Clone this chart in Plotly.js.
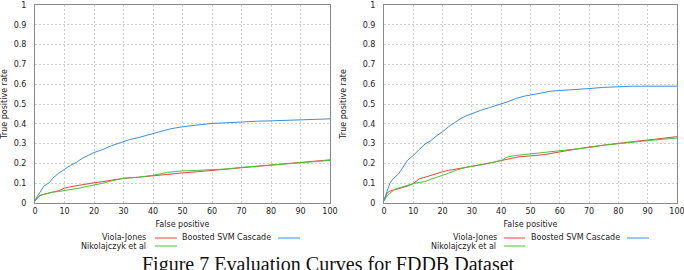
<!DOCTYPE html>
<html><head><meta charset="utf-8">
<script src="https://cdn.plot.ly/plotly-3.0.1.min.js"></script>
<style>html,body{margin:0;padding:0;background:#fff;}#chart{width:684px;height:270px;}</style>
</head><body><div id="chart"></div>
<script>
// ---- data ----
const seriesNames = ["Viola-Jones", "Nikolajczyk et al", "Boosted SVM Cascade"];
const xTicks = [0,10,20,30,40,50,60,70,80,90,100];
const yTicks = [0,0.1,0.2,0.3,0.4,0.5,0.6,0.7,0.8,0.9,1];
const yTickText = ["0","0.1","0.2","0.3","0.4","0.5","0.6","0.7","0.8","0.9","1"];

// left panel
const leftBlueX = [0,1,2,3,4,5,6,7,8,10,12,14,16,18,20,23,26,29,32,35,38,40,43,46,50,55,60,65,70,75,80,85,90,95,100];
const leftBlueY = [0.015,0.04,0.065,0.085,0.095,0.105,0.125,0.14,0.15,0.17,0.19,0.205,0.225,0.24,0.255,0.27,0.29,0.305,0.32,0.33,0.342,0.35,0.365,0.375,0.385,0.395,0.402,0.405,0.41,0.413,0.415,0.418,0.42,0.422,0.425];
const leftRedX = [0,1,2,4,6,8,10,12,15,18,20,23,26,30,35,40,45,50,55,60,65,70,75,80,85,90,95,100];
const leftRedY = [0.01,0.03,0.04,0.046,0.055,0.062,0.075,0.082,0.09,0.1,0.102,0.108,0.115,0.125,0.13,0.138,0.145,0.152,0.158,0.165,0.17,0.178,0.185,0.192,0.198,0.205,0.213,0.218];
const leftGreenX = [0,1,2,4,6,8,10,12,15,18,20,23,26,30,35,40,45,50,55,60,65,70,75,80,85,90,95,100];
const leftGreenY = [0.01,0.03,0.04,0.048,0.055,0.058,0.062,0.066,0.075,0.085,0.09,0.1,0.112,0.125,0.13,0.14,0.155,0.162,0.165,0.167,0.172,0.18,0.186,0.192,0.198,0.205,0.21,0.215];

// right panel
const rightBlueX = [0,1,2,3,4,5,6,7,8,9,10,12,14,16,18,20,22,24,26,28,30,33,36,39,42,45,48,51,54,57,60,65,70,75,80,85,90,95,100];
const rightBlueY = [0.015,0.06,0.1,0.12,0.135,0.148,0.17,0.195,0.215,0.228,0.24,0.27,0.298,0.315,0.34,0.36,0.385,0.405,0.425,0.44,0.452,0.468,0.482,0.496,0.51,0.528,0.54,0.548,0.555,0.565,0.568,0.572,0.578,0.584,0.588,0.59,0.59,0.59,0.59];
const rightRedX = [0,1,2,4,6,8,10,12,14,16,18,20,22,25,28,31,34,37,40,43,46,50,55,60,65,70,75,80,85,90,95,100];
const rightRedY = [0.01,0.05,0.06,0.068,0.076,0.085,0.098,0.122,0.13,0.14,0.15,0.158,0.165,0.172,0.182,0.188,0.195,0.205,0.215,0.225,0.233,0.238,0.245,0.258,0.272,0.283,0.292,0.302,0.31,0.318,0.327,0.335];
const rightGreenX = [0,1,2,4,6,8,10,12,14,16,18,20,22,25,28,31,34,37,40,42,45,50,55,60,65,70,75,80,85,90,95,100];
const rightGreenY = [0.01,0.035,0.05,0.072,0.08,0.09,0.098,0.104,0.108,0.12,0.132,0.14,0.15,0.168,0.18,0.188,0.195,0.205,0.215,0.232,0.24,0.248,0.255,0.265,0.272,0.28,0.292,0.3,0.306,0.315,0.322,0.328];

const caption = "Figure 7 Evaluation Curves for FDDB Dataset";
const xTitle = "False positive";
const yTitle = "True positive rate";

// ---- styling ----
const colors = ["#e2473f", "#4cbf3c", "#3c8fdb"];
const W = 684, H = 270, ML = 35, MR = 7, MT = 5, MB = 67;
const PW = W - ML - MR, PH = H - MT - MB;
const px = x => (x - ML) / PW;
const py = y => (H - MB - y) / PH;

function tr(x, y, c, xa, ya) {
  return {x: x, y: y, type: 'scatter', mode: 'lines', line: {color: c, width: 1},
          xaxis: xa, yaxis: ya, showlegend: false, hoverinfo: 'skip'};
}
const data = [
  tr(leftRedX, leftRedY, colors[0], 'x', 'y'),
  tr(leftGreenX, leftGreenY, colors[1], 'x', 'y'),
  tr(leftBlueX, leftBlueY, colors[2], 'x', 'y'),
  tr(rightRedX, rightRedY, colors[0], 'x2', 'y2'),
  tr(rightGreenX, rightGreenY, colors[1], 'x2', 'y2'),
  tr(rightBlueX, rightBlueY, colors[2], 'x2', 'y2'),
];
const tickFont = {family: 'DejaVu Sans, sans-serif', size: 8, color: '#222'};
function xax(domain, anchor) {
  return {domain: domain, anchor: anchor, range: [0, 100], tickvals: xTicks, ticktext: xTicks.map(String),
    showgrid: true, gridcolor: '#cfcfcf', griddash: '2px,2px', gridwidth: 1,
    showline: true, mirror: true, linecolor: '#8a8a8a', linewidth: 1, zeroline: false,
    ticks: '', tickfont: tickFont, automargin: false, ticklabeloverflow: 'allow',
    title: {text: xTitle, font: tickFont, standoff: 6}};
}
function yax(anchor, standoff) {
  return {domain: [0, 1], anchor: anchor, range: [0, 1], tickvals: yTicks, ticktext: yTickText,
    showgrid: true, gridcolor: '#cfcfcf', griddash: '2px,2px', gridwidth: 1,
    showline: true, mirror: true, linecolor: '#8a8a8a', linewidth: 1, zeroline: false,
    ticks: '', tickfont: tickFont, automargin: false, ticklabelstandoff: 6, ticklabeloverflow: 'allow',
    title: {text: yTitle, font: tickFont, standoff: standoff}};
}
const L0 = px(35), L1 = px(330), R0 = px(384), R1 = px(677);

const annotations = [], shapes = [];
function legendItem(textRight, y, name, lineX0, lineX1, color) {
  annotations.push({xref: 'paper', yref: 'paper', x: px(textRight), y: py(y), xanchor: 'right', yanchor: 'middle',
    text: name, showarrow: false, font: tickFont});
  shapes.push({type: 'line', xref: 'paper', yref: 'paper', x0: px(lineX0), x1: px(lineX1), y0: py(y), y1: py(y),
    line: {color: color, width: 1}});
}
legendItem(148, 238, seriesNames[0], 155, 177, colors[0]);
legendItem(148, 246, seriesNames[1], 155, 177, colors[1]);
legendItem(273, 238, seriesNames[2], 278, 300, colors[2]);
legendItem(499, 238, seriesNames[0], 504, 525, colors[0]);
legendItem(498, 246, seriesNames[1], 504, 525, colors[1]);
legendItem(622, 238, seriesNames[2], 627, 649, colors[2]);
annotations.push({xref: 'paper', yref: 'paper', x: px(328), y: py(264), xanchor: 'center', yanchor: 'middle',
  text: caption, showarrow: false, font: {family: 'Liberation Serif, Times New Roman, serif', size: 20, color: '#111'}});

const layout = {
  width: W, height: H, margin: {l: ML, r: MR, t: MT, b: MB},
  paper_bgcolor: '#fff', plot_bgcolor: '#fff', showlegend: false,
  xaxis: xax([L0, L1], 'y'), yaxis: yax('x', 4),
  xaxis2: xax([R0, R1], 'y2'), yaxis2: yax('x2', 14),
  annotations: annotations, shapes: shapes
};
Plotly.newPlot('chart', data, layout, {displayModeBar: false, staticPlot: true});
</script></body></html>
